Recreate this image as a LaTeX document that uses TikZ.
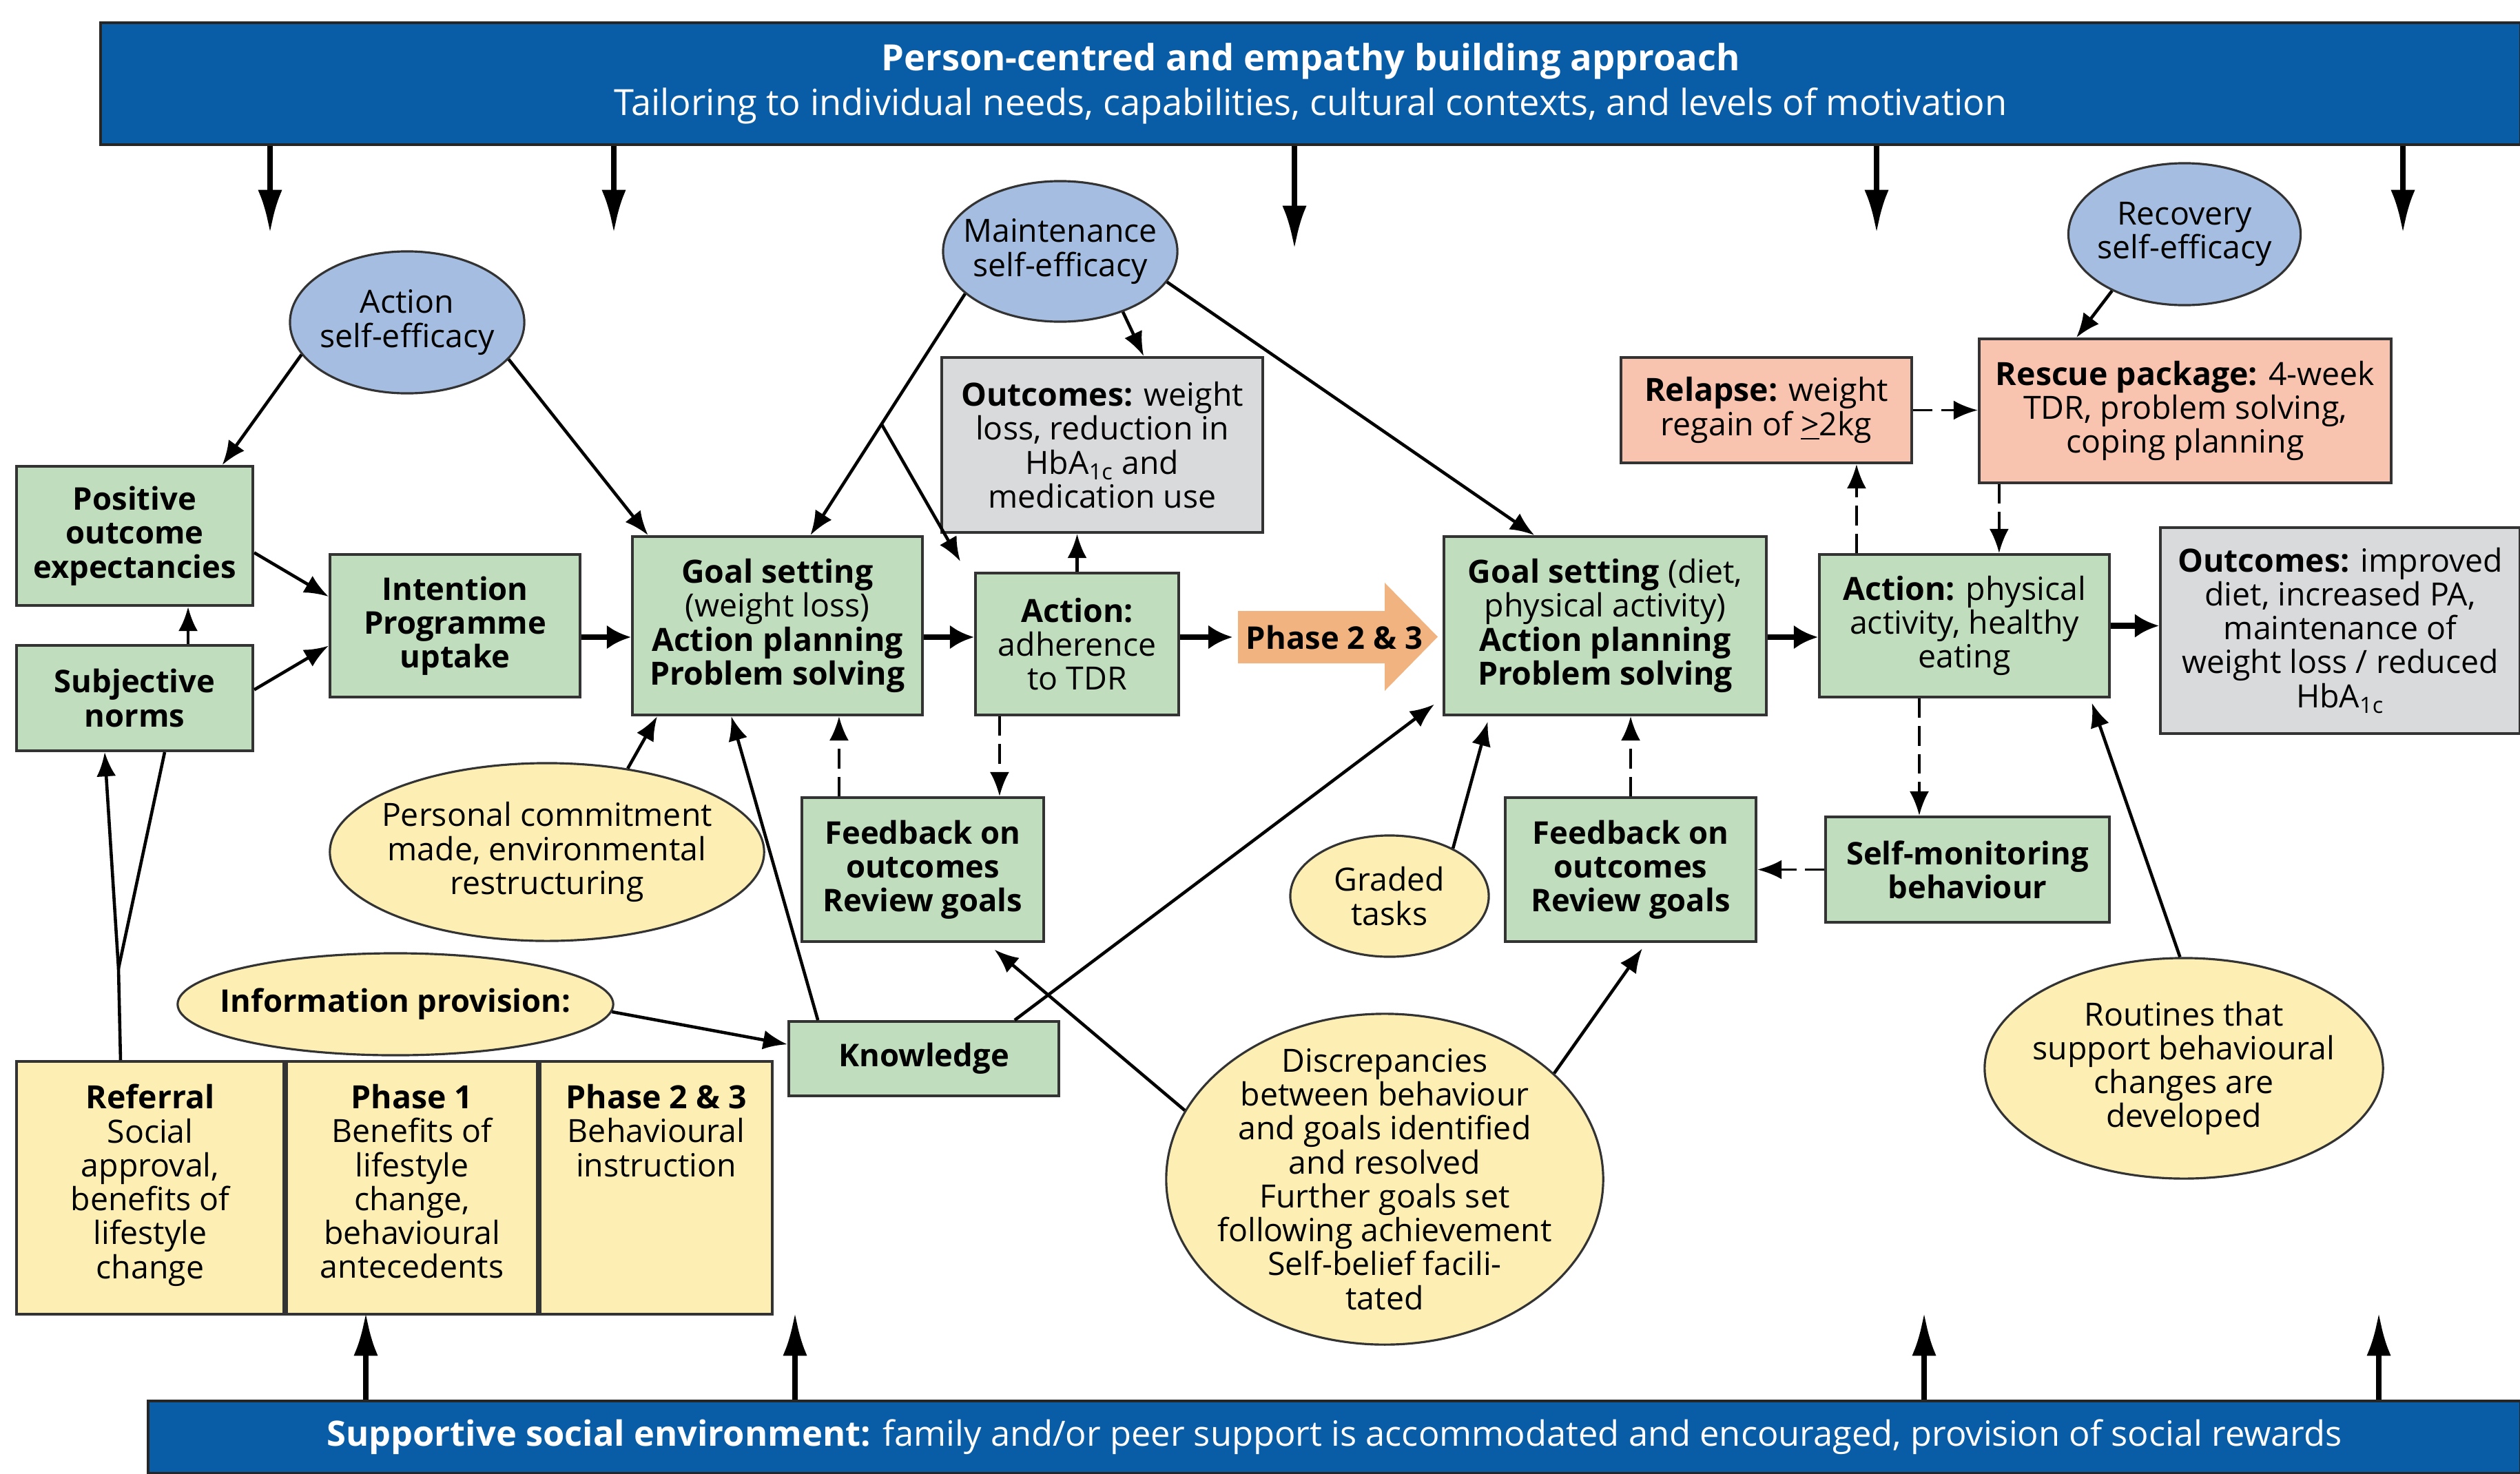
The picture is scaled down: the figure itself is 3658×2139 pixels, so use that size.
\documentclass[tikz,border=0pt]{standalone}
\usepackage{fontspec}
\setmainfont{Open Sans}
\usetikzlibrary{arrows.meta,positioning,calc,shapes.geometric}
\definecolor{barblue}{RGB}{9,93,167}
\definecolor{boxgreen}{RGB}{192,222,189}
\definecolor{boxgrey}{RGB}{217,218,220}
\definecolor{boxsalmon}{RGB}{248,196,175}
\definecolor{boxyellow}{RGB}{253,239,180}
\definecolor{ellblue}{RGB}{164,189,225}
\definecolor{phaseorange}{RGB}{241,180,128}
\newcommand{\diagfont}{\fontsize{13.2pt}{14pt}\selectfont}

\begin{document}
\begin{tikzpicture}
[x=0.01cm,y=-0.01cm,
font=\diagfont,
boldtext/.style={font=\fontsize{12.9pt}{14pt}\selectfont\bfseries},
bar/.style={rectangle,fill=barblue,draw=black!85,line width=1pt,text=white,align=center},
box/.style={rectangle,draw=black!80,line width=1.1pt,align=center,inner sep=1pt},
greenbox/.style={box,fill=boxgreen},
greybox/.style={box,fill=boxgrey},
salmonbox/.style={box,fill=boxsalmon},
yellowbox/.style={box,fill=boxyellow,inner ysep=0.3cm},
blueell/.style={ellipse,draw=black!80,line width=0.9pt,fill=ellblue,align=center,inner sep=-3cm},
yellowell/.style={ellipse,draw=black!80,line width=0.9pt,fill=boxyellow,align=center,inner sep=-3cm},
flow/.style={->,>={Latex[length=10pt,width=8pt]},line width=1.3pt},
mainflow/.style={->,>={Latex[length=10pt,width=10pt]},line width=2.3pt},
dashflow/.style={flow,line width=1.1pt,dash pattern=on 8pt off 3.5pt},
bararrow/.style={->,>={Latex[length=18pt,width=10pt]},line width=2.4pt}]
\useasboundingbox (0,0) rectangle (3658,2139);

\node[bar,minimum width=35.11cm,minimum height=1.77cm,font=\fontsize{14.9pt}{18.5pt}\selectfont] (topbar) at (1902.5,121.5)
  {\textbf{Person-centred and empathy building approach}\\Tailoring to individual needs, capabilities, cultural contexts, and levels of motivation};
\node[bar,minimum width=34.42cm,minimum height=1.05cm,font=\fontsize{14.4pt}{18pt}\selectfont] (botbar) at (1937,2086.5)
  {\textbf{Supportive social environment:} family and/or peer support is accommodated and encouraged, provision of social rewards};

\node[blueell,minimum width=3.4cm,minimum height=2.06cm] (actse) at (591,468) {Action\\self-efficacy};
\node[blueell,minimum width=3.4cm,minimum height=2.04cm] (maintse) at (1539,365) {Maintenance\\self-efficacy};
\node[blueell,minimum width=3.37cm,minimum height=2.06cm] (recse) at (3171,340) {Recovery\\self-efficacy};

\node[greenbox,boldtext,minimum width=3.43cm,minimum height=2.02cm] (posout) at (195.5,778) {Positive\\outcome\\expectancies};
\node[greenbox,boldtext,minimum width=3.43cm,minimum height=1.53cm] (subj) at (195.5,1013.5) {Subjective\\norms};
\node[greenbox,boldtext,minimum width=3.63cm,minimum height=2.07cm] (intent) at (660.5,908.5) {Intention\\Programme\\uptake};
\node[greenbox,minimum width=4.21cm,minimum height=2.59cm] (goalwl) at (1128.5,908.5)
  {\textbf{Goal setting}\\(weight loss)\\\textbf{Action planning}\\\textbf{Problem solving}};
\node[greenbox,minimum width=2.95cm,minimum height=2.06cm] (tdr) at (1563.5,935) {\textbf{Action:}\\adherence\\to TDR};
\node[greybox,minimum width=4.66cm,minimum height=2.54cm] (outwl) at (1600,646)
  {\textbf{Outcomes:} weight\\loss, reduction in\\HbA\textsubscript{1c} and\\medication use};
\node[greenbox,minimum width=4.68cm,minimum height=2.59cm] (goaldiet) at (2330,908.5)
  {\textbf{Goal setting} (diet,\\physical activity)\\\textbf{Action planning}\\\textbf{Problem solving}};
\node[greenbox,minimum width=4.21cm,minimum height=2.07cm] (actphys) at (2851.5,908.5)
  {\textbf{Action:} physical\\activity, healthy\\eating};
\node[greybox,minimum width=5.22cm,minimum height=2.99cm] (outimp) at (3397,915.5)
  {\textbf{Outcomes:} improved\\diet, increased PA,\\maintenance of\\weight loss / reduced\\HbA\textsubscript{1c}};
\node[salmonbox,minimum width=4.22cm,minimum height=1.53cm] (relapse) at (2564,595.5)
  {\textbf{Relapse:} weight\\regain of \underline{>}2kg};
\node[salmonbox,minimum width=5.98cm,minimum height=2.09cm] (rescue) at (3172,596.5)
  {\textbf{Rescue package:} 4-week\\TDR, problem solving,\\coping planning};
\node[greenbox,boldtext,minimum width=3.51cm,minimum height=2.09cm] (fbleft) at (1339.5,1262.5) {Feedback on\\outcomes\\Review goals};
\node[greenbox,boldtext,minimum width=3.64cm,minimum height=2.09cm] (fbright) at (2367,1262.5) {Feedback on\\outcomes\\Review goals};
\node[greenbox,boldtext,minimum width=4.12cm,minimum height=1.53cm] (selfmon) at (2856,1262.5) {Self-monitoring\\behaviour};
\node[greenbox,boldtext,minimum width=3.92cm,minimum height=1.08cm] (know) at (1341,1537) {Knowledge};

\node[yellowell,minimum width=6.3cm,minimum height=2.58cm] (commit) at (794,1237) {Personal commitment\\made, environmental\\restructuring};
\node[yellowell,boldtext,minimum width=6.32cm,minimum height=1.48cm] (info) at (574,1458) {Information provision:};
\node[yellowell,minimum width=2.88cm,minimum height=1.76cm] (graded) at (2017,1301) {Graded\\tasks};
\node[yellowell,minimum width=6.34cm,minimum height=4.8cm] (discrep) at (2010,1712)
  {Discrepancies\\between behaviour\\and goals identified\\and resolved\\Further goals set\\following achievement\\Self-belief facili-\\tated};
\node[yellowell,minimum width=5.78cm,minimum height=3.2cm] (routines) at (3170,1551)
  {Routines that\\support behavioural\\changes are\\developed};

\node[yellowbox,minimum width=3.88cm,minimum height=3.67cm] (referral) at (218,1724.5)
  {\parbox[c][3.0cm][t]{3.7cm}{\centering\textbf{Referral}\\Social\\approval,\\benefits of\\lifestyle\\change}};
\node[yellowbox,minimum width=3.64cm,minimum height=3.67cm,right=0pt of referral] (phase1)
  {\parbox[c][3.0cm][t]{3.5cm}{\centering\textbf{Phase 1}\\Benefits of\\lifestyle\\change,\\behavioural\\antecedents}};
\node[yellowbox,minimum width=3.37cm,minimum height=3.67cm,right=0pt of phase1] (phase23)
  {\parbox[c][3.0cm][t]{3.2cm}{\centering\textbf{Phase 2 \& 3}\\Behavioural\\instruction}};

\fill[phaseorange] (1797,887) -- (2010,887) -- (2010,846) -- (2087,924.5) -- (2010,1003) -- (2010,963) -- (1797,963) -- cycle;
\node[boldtext,minimum width=2.94cm,inner sep=0pt] (phase) at (1937,925) {Phase 2 \& 3};

\foreach \x/\y [count=\i] in {392/339,891/339,1879/362,2724/339,3488/339}
{
\coordinate (toptip\i) at (\x,\y);
\draw[bararrow] (toptip\i |- topbar.south) -- (toptip\i);
}
\foreach \x [count=\i] in {531,1154,2793,3453}
{
\coordinate (bottip\i) at (\x,1905);
\draw[bararrow] (bottip\i |- botbar.north) -- (bottip\i);
}

\draw[flow] (actse.197) -- (posout.39);
\draw[flow] (actse.340) -- (goalwl.145);
\draw[flow] (maintse.204) -- (goalwl.70);
\coordinate (branch) at ($(maintse.204)!0.54!(goalwl.70)$);
\draw[flow] (branch) -- ([xshift=-0.2cm,yshift=0.15cm]tdr.north west);
\draw[flow] (maintse.316) -- (outwl.65);
\draw[flow] (maintse.344) -- (goaldiet.128);
\draw[flow] (recse.218) -- (rescue.146);
\draw[flow] (posout.352) -- (intent.167);
\draw[flow] (subj.4) -- (intent.189);
\draw[flow] ([xshift=0.775cm]subj.north) -- ([xshift=0.775cm]posout.south);
\coordinate (refjoin) at (172,1406);
\draw[flow] ([xshift=-0.43cm]referral.north) -- (refjoin) -- ([xshift=-0.435cm]subj.south);
\draw[line width=1.3pt] (refjoin) -- ([xshift=0.435cm]subj.south);

\draw[mainflow] (intent.east |- phase) -- (goalwl.west |- phase);
\draw[mainflow] (goalwl.east |- phase) -- (tdr.west |- phase);
\draw[mainflow] (tdr.east |- phase) -- (phase.west);
\draw[mainflow] (goaldiet.east |- phase) -- (actphys.west |- phase);
\draw[mainflow] (actphys.east) -- (outimp.west |- actphys.east);
\draw[flow] (tdr.north) -- (tdr.north |- outwl.south);

\draw[flow] (commit.46) -- (goalwl.217);
\draw[flow] (know.160) -- (goalwl.243);
\draw[flow] (info.358) -- (know.174);
\draw[flow,shorten >=0.15cm] (know.23) -- (goaldiet.204);
\draw[flow,shorten >=0.15cm] (discrep.161) -- (fbleft.311);
\draw[flow,shorten >=0.1cm] (discrep.32) -- (fbright.282);
\draw[flow,shorten >=0.08cm] (graded.37) -- (goaldiet.218);
\draw[flow,shorten >=0.07cm] (routines.92) -- (actphys.330);

\coordinate (fbleftup) at ([xshift=-1.215cm]fbleft.north);
\coordinate (tdrdown) at ([xshift=-1.125cm]tdr.south);
\coordinate (actdown) at ([xshift=-0.655cm]actphys.south);
\coordinate (actup) at ([xshift=-1.565cm]actphys.north);
\coordinate (rescuedown) at ([xshift=-2.7cm]rescue.south);
\draw[dashflow] (fbleftup) -- (fbleftup |- goalwl.south);
\draw[dashflow] (tdrdown) -- (tdrdown |- fbleft.north);
\draw[dashflow] (fbright.north) -- (fbright.north |- goaldiet.south);
\draw[dashflow] (actdown) -- (actdown |- selfmon.north);
\draw[dashflow] (selfmon.west) -- (selfmon.west -| fbright.east);
\draw[dashflow] (actup) -- (actup |- relapse.south);
\draw[dashflow] (rescuedown) -- (rescuedown |- actphys.north);
\draw[dashflow] (relapse.east) -- (rescue.west |- relapse.east);
\end{tikzpicture}
\end{document}
